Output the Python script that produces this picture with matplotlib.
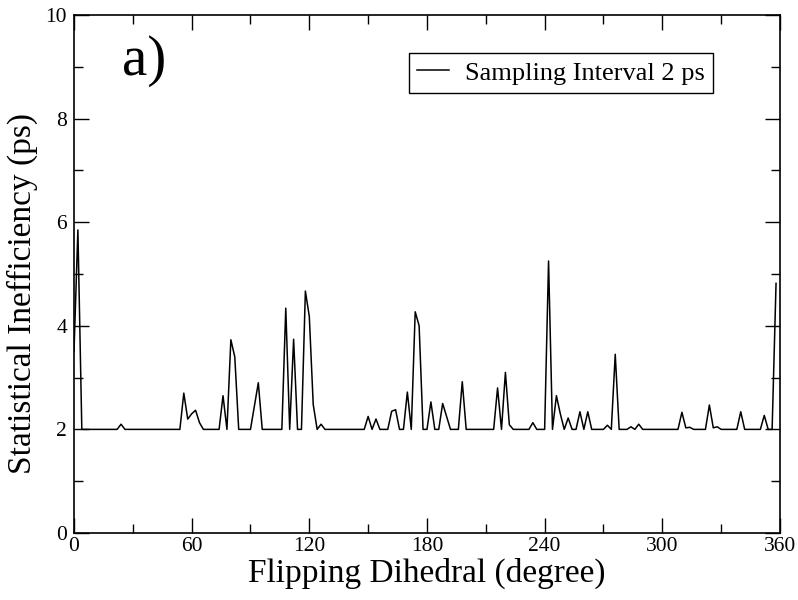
import matplotlib.pyplot as plt
from matplotlib.ticker import MultipleLocator

plt.rcParams['font.family'] = ['Liberation Serif', 'DejaVu Serif']

# flipping dihedral angle (degree), 2-degree steps
angles = list(range(0, 360, 2))

# statistical inefficiency (ps)
ineff = [
    3.5, 5.85, 2, 2, 2, 2, 2, 2, 2, 2,
    2, 2, 2.1, 2, 2, 2, 2, 2, 2, 2,
    2, 2, 2, 2, 2, 2, 2, 2, 2.7, 2.2,
    2.3, 2.37, 2.13, 2, 2, 2, 2, 2, 2.65, 2,
    3.73, 3.4, 2, 2, 2, 2, 2.45, 2.9, 2, 2,
    2, 2, 2, 2, 4.34, 2, 3.74, 2, 2, 4.67,
    4.18, 2.48, 2, 2.1, 2, 2, 2, 2, 2, 2,
    2, 2, 2, 2, 2, 2.25, 2, 2.2, 2, 2,
    2, 2.35, 2.38, 2, 2, 2.72, 2, 4.27, 4.0, 2,
    2, 2.53, 2, 2, 2.5, 2.25, 2, 2, 2, 2.92,
    2, 2, 2, 2, 2, 2, 2, 2, 2.8, 2,
    3.1, 2.09, 2, 2, 2, 2, 2, 2.13, 2, 2,
    2, 5.25, 2, 2.65, 2.3, 2, 2.22, 2, 2, 2.34,
    2, 2.34, 2, 2, 2, 2, 2.08, 2, 3.45, 2,
    2, 2, 2.05, 2, 2.1, 2, 2, 2, 2, 2,
    2, 2, 2, 2, 2, 2.33, 2.03, 2.04, 2, 2,
    2, 2, 2.47, 2.03, 2.05, 2, 2, 2, 2, 2,
    2.34, 2, 2, 2, 2, 2, 2.27, 2, 2, 4.82,
]

fig = plt.figure(figsize=(7.98, 6.0), dpi=100)
ax = fig.add_axes([0.0927, 0.1117, 0.8847, 0.8633])

ax.plot(angles, ineff, color='black', lw=1.1, label='Sampling Interval 2 ps')

ax.set_xlim(0, 360)
ax.set_ylim(0, 10)
ax.xaxis.set_major_locator(MultipleLocator(60))
ax.xaxis.set_minor_locator(MultipleLocator(30))
ax.yaxis.set_major_locator(MultipleLocator(2))
ax.yaxis.set_minor_locator(MultipleLocator(1))
ax.tick_params(which='both', direction='in', top=True, right=True, width=1, labelsize=15.5)
ax.tick_params(axis='x', which='both', pad=3)
ax.tick_params(axis='y', which='both', pad=5)
ax.tick_params(which='major', length=11)
ax.tick_params(which='minor', length=6.5)
for s in ax.spines.values():
    s.set_linewidth(1.2)

ax.set_xlabel('Flipping Dihedral (degree)', fontsize=24, labelpad=1)
ax.set_ylabel('Statistical Inefficiency (ps)', fontsize=24)
ax.yaxis.set_label_coords(-0.051, 0.463)

ax.text(0.068, 0.885, 'a)', transform=ax.transAxes, fontsize=41)

leg = ax.legend(loc='upper right', bbox_to_anchor=(0.905, 0.927), fontsize=19,
                fancybox=False, edgecolor='black', framealpha=1, borderaxespad=0,
                handlelength=1.2, borderpad=0.32, handletextpad=0.6)
leg.get_frame().set_linewidth(1.0)

fig.savefig('out.png', dpi=100)
